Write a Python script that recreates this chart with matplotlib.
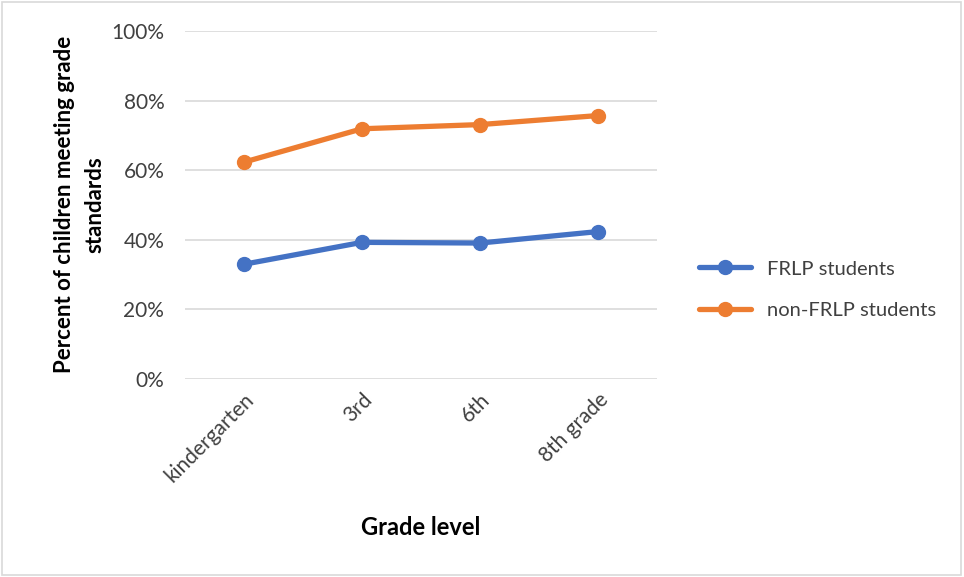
import matplotlib
matplotlib.use("Agg")
import matplotlib.pyplot as plt
from matplotlib.ticker import PercentFormatter
from matplotlib.patches import Rectangle

categories = ["kindergarten", "3rd", "6th", "8th grade"]
frlp = [32.9, 39.2, 39.0, 42.3]
non_frlp = [62.3, 71.9, 73.1, 75.7]
yticks = [0, 20, 40, 60, 80, 100]

plt.rcParams['font.family'] = ['Lato', 'DejaVu Sans']

fig = plt.figure(figsize=(9.64, 5.77), dpi=100)
ax = fig.add_axes([0.192, 0.344, 0.4895, 0.602])

x = list(range(len(categories)))
ax.plot(x, frlp, color="#4472C4", lw=3.8, marker="o", ms=10, label="FRLP students", solid_capstyle="round")
ax.plot(x, non_frlp, color="#ED7D31", lw=3.8, marker="o", ms=10, label="non-FRLP students", solid_capstyle="round")

ax.set_xlim(-0.5, len(categories) - 0.5)
ax.set_ylim(0, 100)
ax.set_yticks(yticks)
ax.yaxis.set_major_formatter(PercentFormatter(decimals=0))
ax.grid(axis="y", color="#d9d9d9", lw=1.2)
ax.set_axisbelow(True)
for s in ax.spines.values():
    s.set_visible(False)
ax.tick_params(axis="both", length=0, labelsize=15, labelcolor="#404040")
ax.tick_params(axis="y", pad=15)
ax.tick_params(axis="x", pad=8)
ax.set_xticks(x)
ax.set_xticklabels(categories, rotation=45, ha="right", rotation_mode="anchor")

ax.set_ylabel("Percent of children meeting grade\nstandards", fontsize=16, fontweight="bold", linespacing=1.55)
ax.yaxis.set_label_coords(-0.168, 0.5)
ax.set_xlabel("Grade level", fontsize=17, fontweight="bold")
ax.xaxis.set_label_coords(0.5, -0.395)

leg = ax.legend(loc="center left", bbox_to_anchor=(1.05, 0.256), frameon=False, fontsize=14.5,
                handlelength=2.6, labelspacing=1.2)
for t in leg.get_texts():
    t.set_color("#404040")

fig.patches.append(Rectangle((0.002, 0.003), 0.995, 0.993, transform=fig.transFigure,
                             fill=False, edgecolor="#d9d9d9", lw=1.2))

fig.savefig("out.png", dpi=100, facecolor="white")
